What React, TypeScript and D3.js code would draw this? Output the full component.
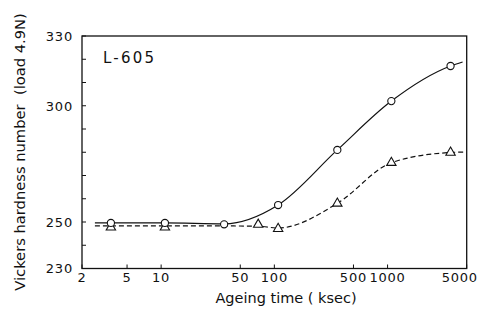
import React from 'react';
import * as d3 from 'd3';

// Measured points (ageing time in ksec, Vickers hardness)
const circleTimes = [3.6, 10.8, 36, 108, 360, 1080, 3600];
const circleValues = [249.6, 249.6, 249.0, 257.3, 281.0, 302.0, 317.1];
const triangleTimes = [3.6, 10.8, 72, 108, 360, 1080, 3600];
const triangleValues = [247.7, 247.7, 248.9, 247.1, 258.0, 275.5, 279.9];

// Hand-drawn fitted curves
const solidFitTimes = [2.6, 3.6, 10.8, 36, 108, 360, 1080, 3600, 4600];
const solidFitValues = [249.6, 249.6, 249.6, 249.2, 257.3, 281.0, 302.0, 317.1, 318.8];
const dashedFitTimes = [2.6, 10.8, 36, 72, 108, 360, 1080, 3600, 4900];
const dashedFitValues = [248.3, 248.3, 248.3, 248.2, 247.4, 258.0, 275.5, 279.9, 280.1];

const xTickValues = [2, 5, 10, 50, 100, 500, 1000, 5000];
const yLabelValues = [230, 250, 300, 330];
const yTickValues = [230, 240, 250, 260, 270, 280, 290, 300, 310, 320, 330];

const W = 485;
const H = 324;
const M = { left: 82, top: 36, right: 18.3, bottom: 55.5 };
const FONT = '"DejaVu Sans", sans-serif';

export default function App() {
  const x = d3.scaleLog().domain([2, 5000]).range([M.left, W - M.right]);
  const y = d3.scaleLinear().domain([230, 330]).range([H - M.bottom, M.top]);

  const line = d3
    .line<[number, number]>()
    .x((d) => x(d[0]))
    .y((d) => y(d[1]))
    .curve(d3.curveMonotoneX);

  const solidPath = line(solidFitTimes.map((t, i) => [t, solidFitValues[i]]) as [number, number][]) || '';
  const dashedPath = line(dashedFitTimes.map((t, i) => [t, dashedFitValues[i]]) as [number, number][]) || '';
  const tri = d3.symbol().type(d3.symbolTriangle).size(38)() || '';

  const x0 = M.left;
  const x1 = W - M.right;
  const y0 = H - M.bottom;
  const y1 = M.top;

  return (
    <svg
      width={W}
      height={H}
      style={{ position: 'absolute', left: 0, top: 0, background: '#fff' }}
      fontFamily={FONT}
    >
      <rect x={0} y={0} width={W} height={H} fill="#fff" />
      {/* frame */}
      <rect x={x0} y={y1} width={x1 - x0} height={y0 - y1} fill="none" stroke="#111" strokeWidth={1.3} />

      {/* y ticks */}
      {yTickValues.map((v) => (
        <line key={'yt' + v} x1={x0} x2={x0 + 4} y1={y(v)} y2={y(v)} stroke="#111" strokeWidth={1} />
      ))}
      {yLabelValues.map((v) => (
        <text
          key={'yl' + v}
          x={73}
          y={y(v) + 4.8}
          textAnchor="end"
          fontSize={13}
          letterSpacing={0.8}
          fill="#111"
        >
          {v}
        </text>
      ))}

      {/* x ticks */}
      {xTickValues.map((v) => (
        <line key={'xt' + v} x1={x(v)} x2={x(v)} y1={y0} y2={y0 - 4} stroke="#111" strokeWidth={1} />
      ))}
      {xTickValues.map((v) => {
        const label = String(v);
        const w = label.length * 9.1;
        const cx = Math.min(x(v), W - 7 - w / 2);
        return (
          <text key={'xl' + v} x={cx} y={282} textAnchor="middle" fontSize={13} letterSpacing={0.8} fill="#111">
            {label}
          </text>
        );
      })}

      {/* curves */}
      <path d={solidPath} fill="none" stroke="#111" strokeWidth={1.2} />
      <path d={dashedPath} fill="none" stroke="#111" strokeWidth={1.2} strokeDasharray="5,3" />

      {/* markers */}
      {triangleTimes.map((t, i) => (
        <path
          key={'tr' + i}
          d={tri}
          transform={`translate(${x(t)},${y(triangleValues[i])})`}
          fill="#fff"
          stroke="#111"
          strokeWidth={1.1}
        />
      ))}
      {circleTimes.map((t, i) => (
        <circle key={'c' + i} cx={x(t)} cy={y(circleValues[i])} r={3.6} fill="#fff" stroke="#111" strokeWidth={1.1} />
      ))}

      {/* annotation */}
      <text x={103} y={62.7} fontSize={15} letterSpacing={2.2} fill="#111">
        L-605
      </text>

      {/* axis titles */}
      <text x={286} y={303} textAnchor="middle" fontSize={14.5} fill="#111">
        Ageing time ( ksec)
      </text>
      <text
        transform="translate(25,152) rotate(-90)"
        textAnchor="middle"
        fontSize={14.7}
        fill="#111"
        style={{ whiteSpace: 'pre' }}
      >
        {'Vickers hardness number  (load 4.9N)'}
      </text>
    </svg>
  );
}
